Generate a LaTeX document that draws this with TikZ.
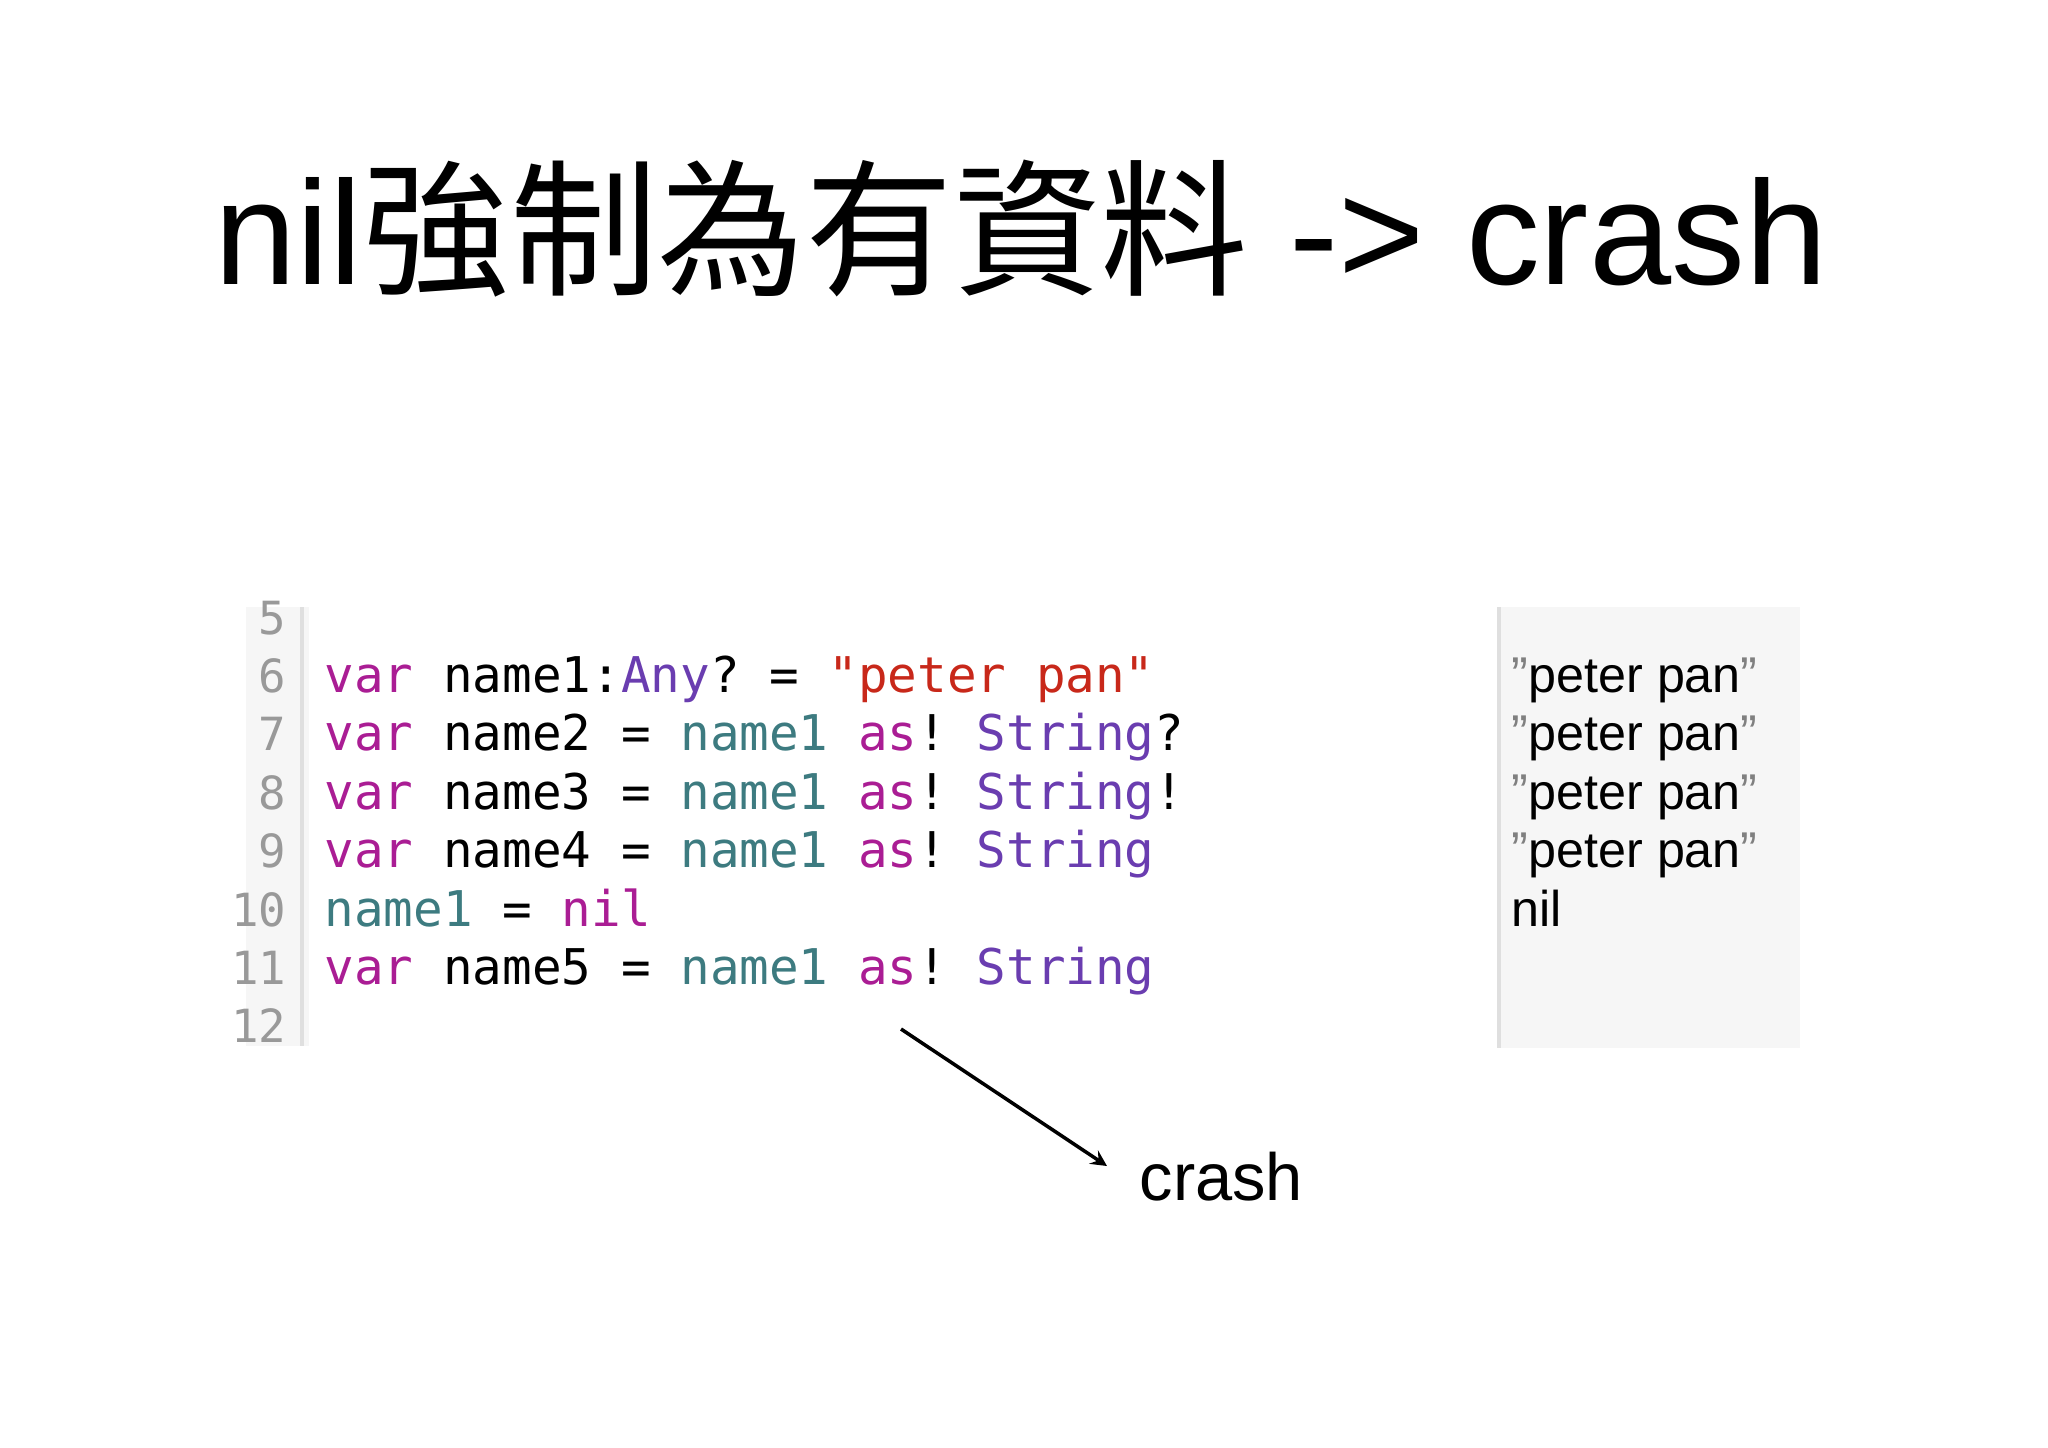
\documentclass[tikz,border=0pt]{standalone}
\usepackage{fontspec}
\setmainfont{Liberation Sans}
\setmonofont{DejaVu Sans Mono}
\newfontfamily\cjk{Noto Sans CJK TC}
\definecolor{kw}{HTML}{AA1D94}
\definecolor{idn}{HTML}{3D7B80}
\definecolor{ty}{HTML}{6A3DB0}
\definecolor{st}{HTML}{C8281A}
\definecolor{gut}{HTML}{F6F6F6}
\tikzset{codeline/.style={anchor=base west,inner sep=0pt,font=\ttfamily\fontsize{14}{16}\selectfont},
 numline/.style={anchor=base east,inner sep=0pt,text=gray!80,font=\ttfamily\fontsize{13}{16}\selectfont},
 outline/.style={anchor=base west,inner sep=0pt,font=\fontsize{14.3}{16}\selectfont}}
\begin{document}
\begin{tikzpicture}[x=0.01cm,y=-0.01cm]
\useasboundingbox (0,0) rectangle (2048,1447);
\fill[white] (0,0) rectangle (2048,1447);
\node[inner sep=0pt,font=\fontsize{42}{48}\selectfont] (title) at (1021,229) {nil{\cjk 強制為有資料} -> crash};
% gutter
\fill[gut] (246,607) rectangle (309,1046);
\draw[gray!25,line width=1pt] (302,607) -- (302,1046);
% right panel
\fill[gut] (1498,607) rectangle (1800,1048);
\draw[gray!25,line width=1pt] (1499,607) -- (1499,1048);
\foreach \n [count=\i from 0] in {5,...,12}
  \node[numline] (n\n) at (287,{634+58.4*\i}) {\n};
\node[codeline] (c6) at (324,{634+58.4*1}) {\textcolor{kw}{var} name1:\textcolor{ty}{Any}? = \textcolor{st}{"peter pan"}};
\node[codeline] (c7) at (324,{634+58.4*2}) {\textcolor{kw}{var} name2 = \textcolor{idn}{name1} \textcolor{kw}{as}! \textcolor{ty}{String}?};
\node[codeline] (c8) at (324,{634+58.4*3}) {\textcolor{kw}{var} name3 = \textcolor{idn}{name1} \textcolor{kw}{as}! \textcolor{ty}{String}!};
\node[codeline] (c9) at (324,{634+58.4*4}) {\textcolor{kw}{var} name4 = \textcolor{idn}{name1} \textcolor{kw}{as}! \textcolor{ty}{String}};
\node[codeline] (c10) at (324,{634+58.4*5}) {\textcolor{idn}{name1} = \textcolor{kw}{nil}};
\node[codeline] (c11) at (324,{634+58.4*6}) {\textcolor{kw}{var} name5 = \textcolor{idn}{name1} \textcolor{kw}{as}! \textcolor{ty}{String}};
\foreach \i in {1,...,4}
  \node[outline] (o\i) at (1511,{634+58.4*\i}) {\textcolor{gray}{"}peter pan\textcolor{gray}{"}};
\node[outline] (o5) at (1511,{634+58.4*5}) {nil};
\coordinate (a0) at (901,1029);
\node[inner sep=0pt,anchor=base west,font=\fontsize{19}{22}\selectfont] (crash) at (1139,1200) {crash};
\draw[-stealth,line width=1pt] (a0) -- (1107,1166);
\end{tikzpicture}
\end{document}
